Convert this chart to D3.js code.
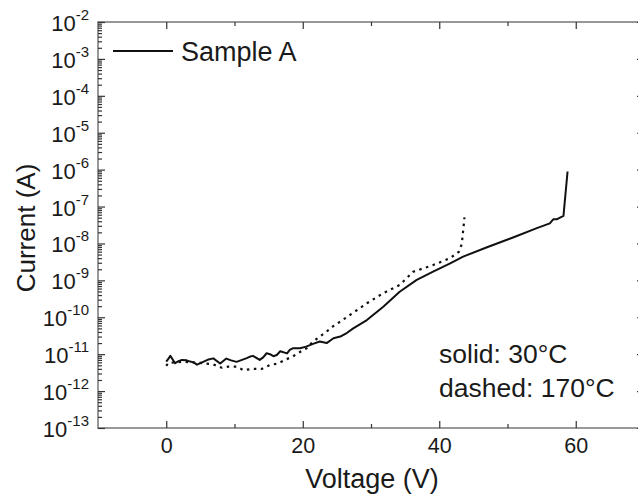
<!DOCTYPE html>
<html lang="en">
<head>
  <meta charset="UTF-8">
  <title>Current vs Voltage</title>
  <script src="https://d3js.org/d3.v7.min.js"></script>
  <style>
    html, body { margin: 0; padding: 0; background: #fff; }
    svg { display: block; font-family: "Liberation Sans", Arial, sans-serif; }
    .tick line { stroke: #333; stroke-width: 1.2px; }
    .tick text { fill: #1a1a1a; }
  </style>
</head>
<body>
  <div id="chart"></div>

  <script>
    // solid: 30°C
    const solidV = [0, 0.3, 0.6, 1.3, 1.8, 2.3, 3.0, 3.5, 4.0, 4.5, 5.5, 6.2, 6.9, 7.9, 8.8, 9.5, 10.3, 11.0, 11.8, 12.2, 12.7,
      13.7, 14.2, 14.7, 15.2, 15.7, 16.2, 16.7, 17.7, 18.1, 18.6, 19.6, 20.5, 21.5, 22.5, 23.5, 24.5, 25.5, 26.5, 27.4,
      29.4, 31.8, 34.2, 36.7, 39.1, 41.6, 43.5, 47.0, 50.9, 54.3, 56.2, 56.7, 57.2, 58.2, 58.8];
    const solidI = [6.3e-12, 7.5e-12, 9e-12, 5.7e-12, 6.5e-12, 7e-12, 6.8e-12, 6.3e-12, 6.0e-12, 5.2e-12, 6.3e-12, 7.2e-12, 7.7e-12,
      5.6e-12, 7.6e-12, 6.8e-12, 6.2e-12, 6.9e-12, 7.8e-12, 8.5e-12, 9e-12,
      7e-12, 8.2e-12, 1.06e-11, 1.0e-11, 8.8e-12, 9.5e-12, 1.2e-11, 1.05e-11, 1.3e-11, 1.45e-11, 1.45e-11, 1.6e-11, 1.9e-11,
      2.2e-11, 2.0e-11, 2.7e-11, 3.0e-11, 3.8e-11, 5e-11,
      8.4e-11, 1.94e-10, 4.9e-10, 1.03e-9, 1.72e-9, 2.9e-9, 4.4e-9, 7.9e-9, 1.47e-8, 2.6e-8, 3.5e-8, 4.5e-8, 4.5e-8, 5.6e-8, 8.9e-7];

    // dashed: 170°C
    const dashV = [0, 0.3, 2.5, 5.0, 6.9, 8.1, 9.1, 10.3, 11.3, 12.7, 14.0, 15.2, 16.4, 17.4, 18.5, 19.6, 20.6, 21.5, 22.5,
      23.5, 24.5, 25.7, 26.9, 29.4, 31.8, 34.2, 36.2, 39.1, 41.6, 42.9, 43.3, 43.5, 43.7];
    const dashI = [4.8e-12, 5.8e-12, 6.2e-12, 5.8e-12, 5.3e-12, 4.3e-12, 4.6e-12, 4.6e-12, 3.7e-12, 4.0e-12, 4.0e-12, 5.1e-12,
      5.6e-12, 7.0e-12, 8.6e-12, 1.15e-11, 1.45e-11, 2.2e-11, 3.0e-11,
      4.1e-11, 5.8e-11, 8.1e-11, 1.15e-10, 2.4e-10, 4.5e-10, 7.5e-10, 1.72e-9, 2.6e-9, 4e-9, 6e-9, 9.7e-9, 2.2e-8, 5.1e-8];

    const xMajor = [0, 20, 40, 60];
    const xMinor = [10, 30, 50, 70];
    const yExponents = [-13, -12, -11, -10, -9, -8, -7, -6, -5, -4, -3, -2];

    const width = 638, height = 501;
    const plotLeft = 98, plotRight = 644, plotTop = 22, plotBottom = 428;

    const svg = d3.select("#chart").append("svg")
      .attr("width", width)
      .attr("height", height);

    const x = d3.scaleLinear().domain([-10, 70]).range([plotLeft, plotRight]);
    const y = d3.scaleLog().domain([1e-13, 1e-2]).range([plotBottom, plotTop]);

    const yMinor = [];
    yExponents.slice(0, -1).forEach(e => {
      for (let k = 2; k <= 9; k++) yMinor.push(k * Math.pow(10, e));
    });
    const yMajor = yExponents.map(e => Math.pow(10, e));

    // frame
    svg.append("rect")
      .attr("x", plotLeft).attr("y", plotTop)
      .attr("width", plotRight - plotLeft).attr("height", plotBottom - plotTop)
      .attr("fill", "none")
      .attr("stroke", "#777")
      .attr("stroke-width", 1.5);

    function addAxis(axis, tx, ty) {
      const g = svg.append("g")
        .attr("transform", `translate(${tx},${ty})`)
        .call(axis);
      g.select(".domain").remove();
      return g;
    }

    // x axes (ticks point inward)
    addAxis(d3.axisBottom(x).tickValues(xMajor).tickSize(-7).tickSizeOuter(0).tickPadding(10), 0, plotBottom)
      .selectAll("text").attr("font-size", 21.5).attr("y", 25).attr("dy", 0);
    addAxis(d3.axisBottom(x).tickValues(xMinor).tickSize(-4).tickSizeOuter(0).tickFormat(""), 0, plotBottom);
    addAxis(d3.axisTop(x).tickValues(xMajor).tickSize(-7).tickSizeOuter(0).tickFormat(""), 0, plotTop);
    addAxis(d3.axisTop(x).tickValues(xMinor).tickSize(-4).tickSizeOuter(0).tickFormat(""), 0, plotTop);

    // y axes
    addAxis(d3.axisLeft(y).tickValues(yMajor).tickSize(-7).tickSizeOuter(0).tickFormat(""), plotLeft, 0);
    addAxis(d3.axisLeft(y).tickValues(yMinor).tickSize(-4).tickSizeOuter(0).tickFormat(""), plotLeft, 0);
    addAxis(d3.axisRight(y).tickValues(yMajor).tickSize(-7).tickSizeOuter(0).tickFormat(""), plotRight, 0);
    addAxis(d3.axisRight(y).tickValues(yMinor).tickSize(-4).tickSizeOuter(0).tickFormat(""), plotRight, 0);

    // y tick labels with superscript exponents
    const yl = svg.append("g").selectAll("text")
      .data(yExponents)
      .join("text")
      .attr("x", 89)
      .attr("y", d => y(Math.pow(10, d)) + 9)
      .attr("text-anchor", "end")
      .attr("fill", "#1a1a1a");
    yl.append("tspan").attr("font-size", 22).text("10");
    yl.append("tspan").attr("font-size", 15).attr("dy", -11).text(d => "-" + Math.abs(d));

    // axis titles
    svg.append("text")
      .attr("x", (plotLeft + 644) / 2 + 1)
      .attr("y", 488)
      .attr("text-anchor", "middle")
      .attr("font-size", 27)
      .attr("fill", "#1a1a1a")
      .text("Voltage (V)");

    svg.append("text")
      .attr("transform", `translate(35,${(plotTop + plotBottom) / 2 + 3}) rotate(-90)`)
      .attr("text-anchor", "middle")
      .attr("font-size", 26)
      .attr("fill", "#1a1a1a")
      .text("Current (A)");

    // curves
    const line = d3.line().x(d => x(d[0])).y(d => y(d[1]));
    const plot = svg.append("g");

    plot.append("path")
      .datum(dashV.map((v, i) => [v, dashI[i]]))
      .attr("d", line)
      .attr("fill", "none")
      .attr("stroke", "#111")
      .attr("stroke-width", 2.2)
      .attr("stroke-dasharray", "2.5,4.5");

    plot.append("path")
      .datum(solidV.map((v, i) => [v, solidI[i]]))
      .attr("d", line)
      .attr("fill", "none")
      .attr("stroke", "#111")
      .attr("stroke-width", 2)
      .attr("stroke-linejoin", "round");

    // legend
    svg.append("line")
      .attr("x1", 113).attr("x2", 173)
      .attr("y1", 51).attr("y2", 51)
      .attr("stroke", "#111")
      .attr("stroke-width", 2);
    svg.append("text")
      .attr("x", 181).attr("y", 61)
      .attr("font-size", 27)
      .attr("fill", "#1a1a1a")
      .text("Sample A");

    // annotation
    const note = svg.append("text")
      .attr("font-size", 26.5)
      .attr("fill", "#1a1a1a");
    note.append("tspan").attr("x", 439).attr("y", 363).text("solid: 30°C");
    note.append("tspan").attr("x", 439).attr("y", 397).text("dashed: 170°C");
  </script>
</body>
</html>
